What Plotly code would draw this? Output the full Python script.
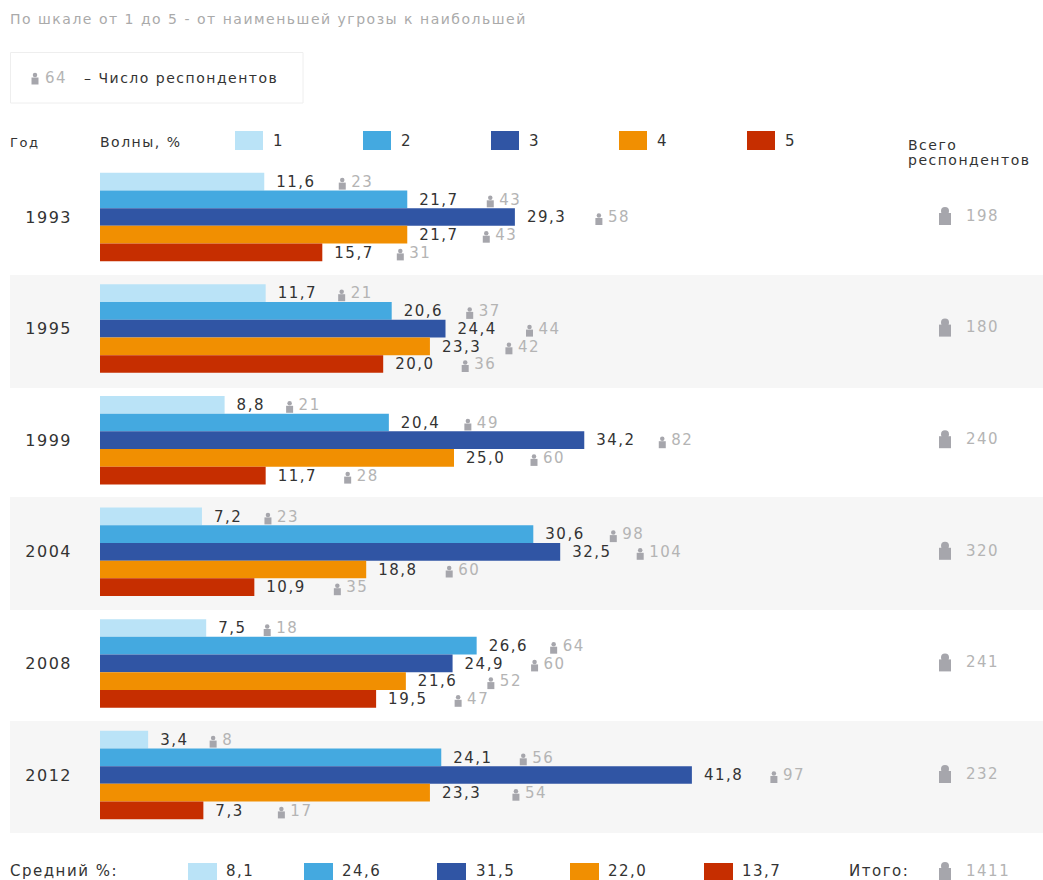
import plotly.graph_objects as go

years = ["1993", "1995", "1999", "2004", "2008", "2012"]
wave_names = ["1", "2", "3", "4", "5"]
colors = ["#BAE3F7", "#44A9E0", "#3055A4", "#F18F01", "#C62E00"]

pct_1 = [11.6, 11.7, 8.8, 7.2, 7.5, 3.4]
pct_2 = [21.7, 20.6, 20.4, 30.6, 26.6, 24.1]
pct_3 = [29.3, 24.4, 34.2, 32.5, 24.9, 41.8]
pct_4 = [21.7, 23.3, 25.0, 18.8, 21.6, 23.3]
pct_5 = [15.7, 20.0, 11.7, 10.9, 19.5, 7.3]

cnt_1 = [23, 21, 21, 23, 18, 8]
cnt_2 = [43, 37, 49, 98, 64, 56]
cnt_3 = [58, 44, 82, 104, 60, 97]
cnt_4 = [43, 42, 60, 60, 52, 54]
cnt_5 = [31, 36, 28, 35, 47, 17]

totals = [198, 180, 240, 320, 241, 232]
mean_pct = ["8,1", "24,6", "31,5", "22,0", "13,7"]
grand_total = 1411

subtitle = "По шкале от 1 до 5 - от наименьшей угрозы к наибольшей"

pcts = [pct_1, pct_2, pct_3, pct_4, pct_5]
cnts = [cnt_1, cnt_2, cnt_3, cnt_4, cnt_5]

# Layout constants (pixels)
W, H = 1043, 880
X0 = 100
SCALE = 14.16
ROW0 = 217
ROW_H = 111.6
BAR_H = 17.7
DARK, GRAY, ICON = "#333333", "#b4b4b4", "#a6a6ac"
FONT = "DejaVu Sans"
icon_gaps = [
    [78, 83, 84, 79, 78],
    [76, 78, 84, 79, 82],
    [65, 79, 78, 80, 82],
    [66, 80, 80, 83, 83],
    [61, 77, 82, 85, 82],
    [65, 82, 82, 86, 78],
]


def dx(px):
    return (px - X0) / SCALE


def dy(py):
    return (py - ROW0) / ROW_H


def xp(px):
    return px / W


def yp(py):
    return 1 - py / H


fig = go.Figure()
rows = list(range(len(years)))

for s, name in enumerate(wave_names):
    offs = (s - 2) * BAR_H / ROW_H
    ys = [r + offs for r in rows]
    text_y = [y + 1.5 / ROW_H for y in ys]
    fig.add_trace(go.Bar(
        x=pcts[s], y=ys, orientation="h",
        width=BAR_H / ROW_H, marker=dict(color=colors[s], line_width=0),
        name=name, showlegend=False, hoverinfo="skip"))
    fig.add_trace(go.Scatter(
        x=[v + 12 / SCALE for v in pcts[s]], y=text_y,
        mode="text", text=[f"{v:.1f}".replace(".", ",") for v in pcts[s]],
        textposition="middle right",
        textfont=dict(family=FONT, size=15, color=DARK),
        showlegend=False, hoverinfo="skip"))
    ix = [v + icon_gaps[r][s] / SCALE for r, v in enumerate(pcts[s])]
    fig.add_trace(go.Scatter(
        x=ix, y=[y - 3 / ROW_H for y in text_y], mode="markers",
        marker=dict(symbol="circle", size=4.5, color=ICON, line_width=0),
        showlegend=False, hoverinfo="skip"))
    fig.add_trace(go.Scatter(
        x=ix, y=[y + 3 / ROW_H for y in text_y], mode="markers",
        marker=dict(symbol="square", size=7, color=ICON, line_width=0),
        showlegend=False, hoverinfo="skip"))
    fig.add_trace(go.Scatter(
        x=[i + 9 / SCALE for i in ix], y=text_y, mode="text",
        text=[str(c) for c in cnts[s]], textposition="middle right",
        textfont=dict(family=FONT, size=15, color=GRAY),
        showlegend=False, hoverinfo="skip"))

# Big icons with row totals and the grand total
big_y = rows + [dy(872)]
big_t = [str(t) for t in totals] + [str(grand_total)]
fig.add_trace(go.Scatter(
    x=[dx(945)] * len(big_y), y=[y - 6 / ROW_H for y in big_y], mode="markers",
    marker=dict(symbol="circle", size=8, color=ICON, line_width=0),
    showlegend=False, hoverinfo="skip"))
fig.add_trace(go.Scatter(
    x=[dx(945)] * len(big_y), y=[y + 2 / ROW_H for y in big_y], mode="markers",
    marker=dict(symbol="square", size=12, color=ICON, line_width=0),
    showlegend=False, hoverinfo="skip"))
fig.add_trace(go.Scatter(
    x=[dx(966)] * len(big_y), y=big_y, mode="text", text=big_t,
    textposition="middle right",
    textfont=dict(family=FONT, size=15, color=GRAY),
    showlegend=False, hoverinfo="skip"))

# Key icon in the box
fig.add_trace(go.Scatter(
    x=[dx(35)], y=[dy(75)], mode="markers",
    marker=dict(symbol="circle", size=4.5, color=ICON, line_width=0),
    showlegend=False, hoverinfo="skip"))
fig.add_trace(go.Scatter(
    x=[dx(35)], y=[dy(81)], mode="markers",
    marker=dict(symbol="square", size=7, color=ICON, line_width=0),
    showlegend=False, hoverinfo="skip"))

shapes = []
for top, bot in [(275, 388), (497, 610), (721, 833)]:
    shapes.append(dict(type="rect", xref="paper", yref="paper", layer="below",
                       x0=xp(10), x1=1, y0=yp(bot), y1=yp(top),
                       fillcolor="#F6F6F6", line_width=0))
shapes.append(dict(type="rect", xref="paper", yref="paper", layer="below",
                   x0=xp(10.5), x1=xp(303), y0=yp(103), y1=yp(52.5),
                   fillcolor="rgba(0,0,0,0)", line=dict(color="#eeeeee", width=1)))

ann = []


def label(px, py, text, size=14, color=DARK):
    ann.append(dict(xref="paper", yref="paper", x=xp(px - 2), y=yp(py), text=text,
                    xanchor="left", yanchor="middle", align="left", showarrow=False,
                    font=dict(family=FONT, size=size, color=color)))


label(10, 19, subtitle, 14, "#aaaaaa")
label(45, 78, "64", 15, GRAY)
label(84, 78, "– Число респондентов", 14)
label(10, 142, "Год", 13)
label(100, 142, "Волны, %", 14)
label(908, 145, "Всего", 14)
label(908, 160, "респондентов", 14)
label(10, 871, "Средний %:", 15)
label(849, 871, "Итого:", 15)

for s, (name, col) in enumerate(zip(wave_names, colors)):
    left = 235 + 128 * s
    shapes.append(dict(type="rect", xref="paper", yref="paper",
                       x0=xp(left), x1=xp(left + 28), y0=yp(150), y1=yp(131),
                       fillcolor=col, line_width=0))
    label(left + 38, 141, name, 15)

for left, txt_x, txt, col in zip([188, 304, 437, 570, 704],
                                 [226, 342, 476, 608, 742], mean_pct, colors):
    shapes.append(dict(type="rect", xref="paper", yref="paper",
                       x0=xp(left), x1=xp(left + 29), y0=0, y1=yp(863),
                       fillcolor=col, line_width=0))
    label(txt_x, 871, txt, 15)

fig.update_layout(
    width=W, height=H, margin=dict(l=0, r=0, t=0, b=0),
    paper_bgcolor="white", plot_bgcolor="rgba(0,0,0,0)",
    barmode="overlay", showlegend=False, shapes=shapes, annotations=ann,
    xaxis=dict(domain=[0, 1], range=[dx(0), dx(W)], visible=False,
               fixedrange=True),
    yaxis=dict(domain=[0, 1], range=[dy(H), dy(0)], tickmode="array",
               anchor="free", position=X0 / W,
               tickvals=rows, ticktext=years, showgrid=False, zeroline=False,
               showline=False, ticks="", ticklabelstandoff=28, automargin=False,
               tickfont=dict(family=FONT, size=16, color=DARK), fixedrange=True),
)

post = """
document.body.style.margin='0';
document.body.style.overflow='hidden';
var st=document.createElement('style');
st.textContent='svg text{letter-spacing:1.5px}';
document.head.appendChild(st);
"""
fig.write_html("out.html", include_plotlyjs=True, config={"displayModeBar": False},
               post_script=post)
